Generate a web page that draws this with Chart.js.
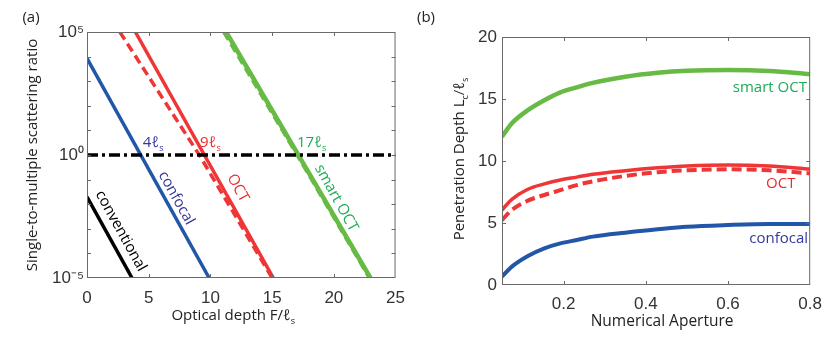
<!DOCTYPE html>
<html><head><meta charset="utf-8">
<script src="https://cdn.jsdelivr.net/npm/chart.js@4"></script>
<style>
html,body{margin:0;padding:0;background:#fff;width:831px;height:341px;overflow:hidden}
#ca{position:absolute;left:0;top:0}
#cb{position:absolute;left:415px;top:0}
</style></head><body>
<canvas id="ca" width="415" height="341"></canvas>
<canvas id="cb" width="416" height="341"></canvas>
<script>
// ---------- Panel (a) data ----------
const depthTickValues = [0, 5, 10, 15, 20, 25];
const ratioDecades = [1e-5, 1e-4, 1e-3, 1e-2, 1e-1, 1, 1e1, 1e2, 1e3, 1e4, 1e5];
const ratioLabelValues = [1e-5, 1, 1e5];
const ratioLabelTexts = ['10⁻⁵', '10⁰', '10⁵'];

const conventionalX = [0, 3.65];
const conventionalY = [0.02, 1e-5];
const confocalX = [0, 9.9];
const confocalY = [8500, 1e-5];
const octSolidX = [3.92, 15.1];
const octSolidY = [1e5, 1e-5];
const octDashedX = [2.66, 9.1, 15.0];
const octDashedY = [1e5, 1, 1e-5];
const smartSolidX = [11.28, 22.97];
const smartSolidY = [1e5, 1e-5];
const smartDashedX = [11.1, 17.05, 22.9];
const smartDashedY = [1e5, 1, 1e-5];
const thresholdX = [0, 25];
const thresholdY = [1, 1];

// ---------- Panel (b) data ----------
const numericalAperture = [0.05, 0.074, 0.113, 0.153, 0.192, 0.232, 0.271, 0.35, 0.429, 0.5, 0.6, 0.7, 0.8];
const smartOctDepth  = [11.96, 13.04, 14.1, 14.9, 15.54, 15.94, 16.3, 16.8, 17.12, 17.28, 17.34, 17.26, 17.0];
const octSolidDepth  = [6.05, 6.91, 7.72, 8.15, 8.47, 8.7, 8.93, 9.22, 9.45, 9.6, 9.68, 9.6, 9.35];
const octDashedDepth = [5.24, 6.05, 6.8, 7.26, 7.65, 8.06, 8.36, 8.8, 9.1, 9.25, 9.33, 9.25, 9.0];
const confocalDepth  = [0.67, 1.48, 2.34, 2.96, 3.36, 3.63, 3.9, 4.22, 4.49, 4.7, 4.84, 4.92, 4.92];
const apertureTickValues = [0.2, 0.4, 0.6, 0.8];
const depthTickValuesB = [0, 5, 10, 15, 20];

// ---------- styles ----------
const BLUE = '#2156a8', RED = '#ef3535', GREEN = '#67bb45', BLACK = '#000';
const BLUE_T = '#35379a', RED_T = '#ee2a2a', GREEN_T = '#1eaa56';
const AXIS = '#6a6a6a';
const TFONT = '"Open Sans", "DejaVu Sans", sans-serif';
const NFONT = '"Liberation Sans", Arial, sans-serif';

function pts(xs, ys) { return xs.map((x, i) => ({ x: x, y: ys[i] })); }

function rich(ctx, parts, x, y, size, color, align) {
  ctx.save();
  ctx.fillStyle = color;
  ctx.textBaseline = 'middle';
  ctx.textAlign = 'left';
  const mainF = size + 'px ' + TFONT;
  const subF = Math.round(size * 0.62) + 'px ' + TFONT;
  let total = 0;
  const widths = parts.map(p => { ctx.font = p[1] ? subF : mainF; const w = ctx.measureText(p[0]).width; total += w; return w; });
  let cx = align === 'center' ? x - total / 2 : (align === 'right' ? x - total : x);
  parts.forEach((p, i) => {
    ctx.font = p[1] ? subF : mainF;
    ctx.fillText(p[0], cx, p[1] ? y + size * 0.38 : y);
    cx += widths[i];
  });
  ctx.restore();
}

function frame(ctx, area, xs, ys, xTicks, yTicks) {
  ctx.save();
  ctx.strokeStyle = AXIS;
  ctx.lineWidth = 1;
  ctx.strokeRect(area.left + 0.5, area.top + 0.5, area.right - area.left - 1, area.bottom - area.top - 1);
  ctx.beginPath();
  const L = 4;
  xTicks.forEach(v => {
    const px = Math.round(xs.getPixelForValue(v)) + 0.5;
    ctx.moveTo(px, area.bottom); ctx.lineTo(px, area.bottom - L);
    ctx.moveTo(px, area.top); ctx.lineTo(px, area.top + L);
  });
  yTicks.forEach(v => {
    const py = Math.round(ys.getPixelForValue(v)) + 0.5;
    ctx.moveTo(area.left, py); ctx.lineTo(area.left + L, py);
    ctx.moveTo(area.right, py); ctx.lineTo(area.right - L, py);
  });
  ctx.stroke();
  ctx.restore();
}

// ---------- Chart (a) ----------
const decorA = {
  id: 'decorA',
  afterDatasetsDraw(chart) {
    const ctx = chart.ctx, a = chart.chartArea, xs = chart.scales.x, ys = chart.scales.y;
    frame(ctx, a, xs, ys, depthTickValues.slice(1, -1), ratioDecades.slice(1, -1));
    const yc = Math.pow(10, 0.49);
    rich(ctx, [['4ℓ', false], ['s', true]], xs.getPixelForValue(5.36), ys.getPixelForValue(yc), 15, BLUE_T, 'center');
    rich(ctx, [['9ℓ', false], ['s', true]], xs.getPixelForValue(10.0), ys.getPixelForValue(yc), 15, RED_T, 'center');
    rich(ctx, [['17ℓ', false], ['s', true]], xs.getPixelForValue(18.2), ys.getPixelForValue(yc), 15, GREEN_T, 'center');
    const dx = xs.getPixelForValue(confocalX[1]) - xs.getPixelForValue(confocalX[0]);
    const dy = ys.getPixelForValue(confocalY[1]) - ys.getPixelForValue(confocalY[0]);
    const ang = Math.atan2(dy, dx);
    const rot = [
      ['conventional', 2.74, -3.09, BLACK],
      ['confocal', 7.23, -1.75, BLUE_T],
      ['OCT', 12.22, -1.34, RED_T],
      ['smart OCT', 20.19, -1.75, GREEN_T]
    ];
    rot.forEach(r => {
      ctx.save();
      ctx.translate(xs.getPixelForValue(r[1]), ys.getPixelForValue(Math.pow(10, r[2])));
      ctx.rotate(ang);
      rich(ctx, [[r[0], false]], 0, 0, 15, r[3], 'center');
      ctx.restore();
    });
    rich(ctx, [['Optical depth F/ℓ', false], ['s', true]], (a.left + a.right) / 2 - 8, a.bottom + 38, 15, '#222', 'center');
    ctx.save();
    ctx.translate(a.left - 54, (a.top + a.bottom) / 2);
    ctx.rotate(-Math.PI / 2);
    rich(ctx, [['Single-to-multiple scattering ratio', false]], 0, 0, 15, '#222', 'center');
    ctx.restore();
    rich(ctx, [['(a)', false]], 31, 18, 15, '#222', 'center');
  }
};

function lineDs(xs, ys, color, width, dash) {
  return { data: pts(xs, ys), borderColor: color, borderWidth: width, borderDash: dash || [], pointRadius: 0, fill: false, tension: 0, borderCapStyle: 'butt' };
}

new Chart(document.getElementById('ca'), {
  type: 'line',
  data: {
    datasets: [
      lineDs(thresholdX, thresholdY, BLACK, 3.5, [11, 4, 3, 4]),
      lineDs(conventionalX, conventionalY, BLACK, 3.5),
      lineDs(confocalX, confocalY, BLUE, 3.5),
      lineDs(octDashedX, octDashedY, RED, 3.5, [9, 5]),
      lineDs(octSolidX, octSolidY, RED, 3.5),
      lineDs(smartDashedX, smartDashedY, GREEN, 4, [9, 5]),
      lineDs(smartSolidX, smartSolidY, GREEN, 4.5)
    ]
  },
  options: {
    responsive: false, animation: false,
    layout: { padding: { top: 32, right: 11, left: 0, bottom: 0 } },
    plugins: { legend: { display: false }, tooltip: { enabled: false } },
    scales: {
      x: {
        type: 'linear', min: 0, max: 25,
        afterBuildTicks: s => { s.ticks = depthTickValues.map(v => ({ value: v })); },
        afterFit: s => { s.height = 63; },
        grid: { display: false, drawTicks: false }, border: { display: false },
        ticks: { padding: 10, color: '#333', font: { family: NFONT, size: 17 }, autoSkip: false, maxRotation: 0 }
      },
      y: {
        type: 'logarithmic', min: 1e-5, max: 1e5,
        afterBuildTicks: s => { s.ticks = ratioDecades.map(v => ({ value: v })); },
        afterFit: s => { s.width = 87; },
        grid: { display: false, drawTicks: false }, border: { display: false },
        ticks: {
          padding: 3, color: '#333', font: { family: NFONT, size: 17 }, autoSkip: false,
          callback: v => { const i = ratioLabelValues.findIndex(r => Math.abs(Math.log10(r) - Math.log10(v)) < 1e-6); return i >= 0 ? ratioLabelTexts[i] : ''; }
        }
      }
    }
  },
  plugins: [decorA]
});

// ---------- Chart (b) ----------
const decorB = {
  id: 'decorB',
  afterDatasetsDraw(chart) {
    const ctx = chart.ctx, a = chart.chartArea, xs = chart.scales.x, ys = chart.scales.y;
    frame(ctx, a, xs, ys, apertureTickValues.slice(0, -1), depthTickValuesB.slice(1, -1));
    rich(ctx, [['smart OCT', false]], xs.getPixelForValue(0.792), ys.getPixelForValue(15.9), 15, GREEN_T, 'right');
    rich(ctx, [['OCT', false]], xs.getPixelForValue(0.764), ys.getPixelForValue(8.15), 15, RED_T, 'right');
    rich(ctx, [['confocal', false]], xs.getPixelForValue(0.795), ys.getPixelForValue(3.7), 15, BLUE_T, 'right');
    rich(ctx, [['Numerical Aperture', false]], (a.left + a.right) / 2 + 6, a.bottom + 37, 15.5, '#222', 'center');
    ctx.save();
    ctx.translate(a.left - 42, (a.top + a.bottom) / 2 - 2);
    ctx.rotate(-Math.PI / 2);
    rich(ctx, [['Penetration Depth L', false], ['c', true], ['/ℓ', false], ['s', true]], 0, 0, 15, '#222', 'center');
    ctx.restore();
    rich(ctx, [['(b)', false]], 11, 18, 15, '#222', 'center');
  }
};

function curve(ys, color, width, dash) {
  return { data: pts(numericalAperture, ys), borderColor: color, borderWidth: width, borderDash: dash || [], pointRadius: 0, fill: false, cubicInterpolationMode: 'monotone', borderCapStyle: 'butt' };
}

new Chart(document.getElementById('cb'), {
  type: 'line',
  data: {
    datasets: [
      curve(confocalDepth, BLUE, 4),
      curve(octDashedDepth, RED, 4, [10, 5]),
      curve(octSolidDepth, RED, 3.5),
      curve(smartOctDepth, GREEN, 4.5)
    ]
  },
  options: {
    responsive: false, animation: false,
    layout: { padding: { top: 37, right: 13, left: 0, bottom: 0 } },
    plugins: { legend: { display: false }, tooltip: { enabled: false } },
    scales: {
      x: {
        type: 'linear', min: 0.05, max: 0.8,
        afterBuildTicks: s => { s.ticks = apertureTickValues.map(v => ({ value: v })); },
        afterFit: s => { s.height = 56; },
        grid: { display: false, drawTicks: false }, border: { display: false },
        ticks: { padding: 9, color: '#333', font: { family: NFONT, size: 17 }, autoSkip: false, maxRotation: 0, callback: v => v.toFixed(1) }
      },
      y: {
        type: 'linear', min: 0, max: 20,
        afterBuildTicks: s => { s.ticks = depthTickValuesB.map(v => ({ value: v })); },
        afterFit: s => { s.width = 87; },
        grid: { display: false, drawTicks: false }, border: { display: false },
        ticks: { padding: 5, color: '#333', font: { family: NFONT, size: 17 }, autoSkip: false }
      }
    }
  },
  plugins: [decorB]
});
</script>
</body></html>
